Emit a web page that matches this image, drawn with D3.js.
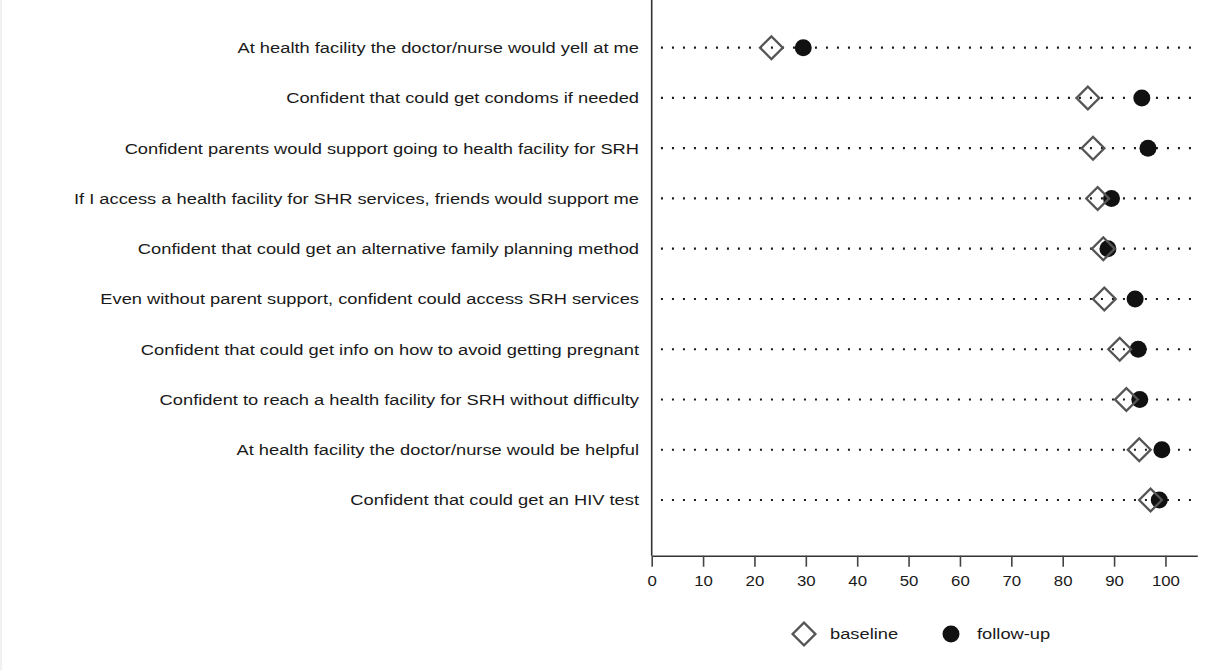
<!DOCTYPE html>
<html>
<head>
<meta charset="utf-8">
<script src="https://cdn.jsdelivr.net/npm/d3@7"></script>
<style>
  body { margin: 0; background: #fff; }
  text { font-family: "Liberation Sans", Arial, sans-serif; fill: #1a1a1a; }
</style>
</head>
<body>
<div id="chart"></div>
<script>
const items = [
    'At health facility the doctor/nurse would yell at me',
    'Confident that could get condoms if needed',
    'Confident parents would support going to health facility for SRH',
    'If I access a health facility for SHR services, friends would support me',
    'Confident that could get an alternative family planning method',
    'Even without parent support, confident could access SRH services',
    'Confident that could get info on how to avoid getting pregnant',
    'Confident to reach a health facility for SRH without difficulty',
    'At health facility the doctor/nurse would be helpful',
    'Confident that could get an HIV test'
];
const baseline = [23.3, 84.9, 85.9, 86.8, 87.9, 88.1, 91.1, 92.4, 94.9, 97.1];
const followUp = [29.5, 95.4, 96.6, 89.5, 88.8, 94.1, 94.7, 95.0, 99.3, 98.8];
const xTicks = [0, 10, 20, 30, 40, 50, 60, 70, 80, 90, 100];
const legendLabels = ['baseline', 'follow-up'];

const width = 1225, height = 670;
const axisY = 555.7;
const stretch = 1.22; // text in the original is drawn wide

const svg = d3.select('#chart')
    .append('svg')
    .attr('width', width)
    .attr('height', height);

// faint frame edge on the left
svg.append('line')
    .attr('x1', 1).attr('x2', 1)
    .attr('y1', 0).attr('y2', height)
    .attr('stroke', '#e2e2e2');

const x = d3.scaleLinear()
    .domain([0, 106.2])
    .range([651.7, 1197.3]);

const y = d3.scalePoint()
    .domain(items)
    .range([47.7, 500]);

// dotted guide lines
svg.selectAll('.guide')
    .data(items)
    .enter()
    .append('line')
    .attr('class', 'guide')
    .attr('x1', x(1.8))
    .attr('x2', x(105.4))
    .attr('y1', d => y(d))
    .attr('y2', d => y(d))
    .attr('stroke', '#1a1a1a')
    .attr('stroke-width', 2.2)
    .attr('stroke-dasharray', '2 9');

// row labels
svg.selectAll('.label')
    .data(items)
    .enter()
    .append('text')
    .attr('class', 'label')
    .attr('transform', d => `translate(639,${y(d)}) scale(${stretch},1)`)
    .attr('dy', '0.36em')
    .attr('text-anchor', 'end')
    .style('font-size', '15px')
    .text(d => d);

// x axis
const xAxis = d3.axisBottom(x)
    .tickValues(xTicks)
    .tickSize(11)
    .tickSizeOuter(0)
    .tickPadding(9);

const gx = svg.append('g')
    .attr('transform', `translate(0,${axisY})`)
    .call(xAxis);
gx.select('.domain').attr('stroke', '#333').attr('stroke-width', 1.6);
gx.selectAll('.tick line').attr('stroke', '#444').attr('stroke-width', 1.6);
gx.selectAll('.tick text')
    .style('font-size', '15px')
    .style('font-family', '"Liberation Sans", Arial, sans-serif')
    .attr('transform', 'scale(1.12,1)')
    .attr('fill', '#1a1a1a');

// left axis line
svg.append('line')
    .attr('x1', x(0)).attr('x2', x(0))
    .attr('y1', 0).attr('y2', axisY)
    .attr('stroke', '#333')
    .attr('stroke-width', 1.6);

const diamond = d3.symbol().type(d3.symbolSquare).size(260);

// follow-up circles
svg.selectAll('.fu')
    .data(followUp)
    .enter()
    .append('circle')
    .attr('class', 'fu')
    .attr('cx', d => x(d))
    .attr('cy', (d, i) => y(items[i]))
    .attr('r', 8.5)
    .attr('fill', '#111');

// baseline diamonds (open)
svg.selectAll('.bl')
    .data(baseline)
    .enter()
    .append('path')
    .attr('class', 'bl')
    .attr('d', diamond)
    .attr('transform', (d, i) => `translate(${x(d)},${y(items[i])}) rotate(45)`)
    .attr('fill', 'none')
    .attr('stroke', '#555')
    .attr('stroke-width', 2.3);

// legend
const legendY = 634;
const lg = svg.append('g');
lg.append('path')
    .attr('d', diamond)
    .attr('transform', `translate(804,${legendY}) rotate(45)`)
    .attr('fill', 'none')
    .attr('stroke', '#555')
    .attr('stroke-width', 2.3);
lg.append('text')
    .attr('transform', `translate(830,${legendY}) scale(${stretch},1)`)
    .attr('dy', '0.36em')
    .style('font-size', '15px')
    .text(legendLabels[0]);
lg.append('circle')
    .attr('cx', 951).attr('cy', legendY)
    .attr('r', 8.5)
    .attr('fill', '#111');
lg.append('text')
    .attr('transform', `translate(977,${legendY}) scale(${stretch},1)`)
    .attr('dy', '0.36em')
    .style('font-size', '15px')
    .text(legendLabels[1]);
</script>
</body>
</html>
